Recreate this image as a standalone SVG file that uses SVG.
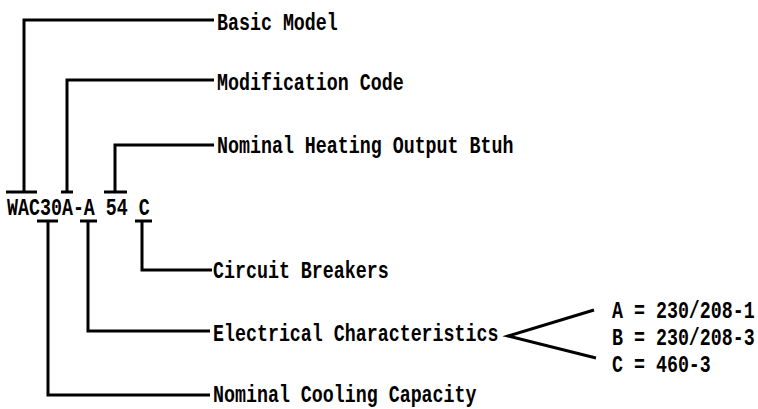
<svg xmlns="http://www.w3.org/2000/svg" width="758" height="409" viewBox="0 0 758 409">
<style>
.ln{fill:none;stroke:#000;stroke-width:3;stroke-linejoin:miter}
.tx{font-family:"Liberation Mono","DejaVu Sans Mono",monospace;font-weight:bold;font-size:18.3px;fill:#000}
</style>
<rect width="758" height="409" fill="#fff"/>
<g id="connectors">
<path class="ln" d="M214,20 H24 V192"/>
<path class="ln" d="M6,192 H37"/>
<path class="ln" d="M214,80 H67 V192"/>
<path class="ln" d="M61,192 H73"/>
<path class="ln" d="M214,145 H115 V192"/>
<path class="ln" d="M104,192 H127"/>
<path class="ln" d="M37,221 H58"/>
<path class="ln" d="M48,221 V395 H210"/>
<path class="ln" d="M80,221 H97"/>
<path class="ln" d="M88,221 V331 H210"/>
<path class="ln" d="M135,221 H152"/>
<path class="ln" d="M142,221 V270 H212"/>
<path class="ln" d="M594,310 L508,336 L596,358"/>
</g>
<g id="model"><text class="tx" transform="translate(7,215) scale(1,1.3)">WAC30A-A 54 C</text></g>
<g id="basic-model"><text class="tx" transform="translate(217,30) scale(1,1.3)">Basic Model</text></g>
<g id="modification-code"><text class="tx" transform="translate(217,90) scale(1,1.3)">Modification Code</text></g>
<g id="heating-output"><text class="tx" transform="translate(217,153) scale(1,1.3)">Nominal Heating Output Btuh</text></g>
<g id="circuit-breakers"><text class="tx" transform="translate(213,278) scale(1,1.3)">Circuit Breakers</text></g>
<g id="electrical"><text class="tx" transform="translate(213,341) scale(1,1.3)">Electrical Characteristics</text></g>
<g id="cooling-capacity"><text class="tx" transform="translate(213,402) scale(1,1.3)">Nominal Cooling Capacity</text></g>
<g id="options">
<text class="tx" transform="translate(612,318) scale(1,1.3)">A = 230/208-1</text>
<text class="tx" transform="translate(612,345) scale(1,1.3)">B = 230/208-3</text>
<text class="tx" transform="translate(612,372) scale(1,1.3)">C = 460-3</text>
</g>
</svg>
